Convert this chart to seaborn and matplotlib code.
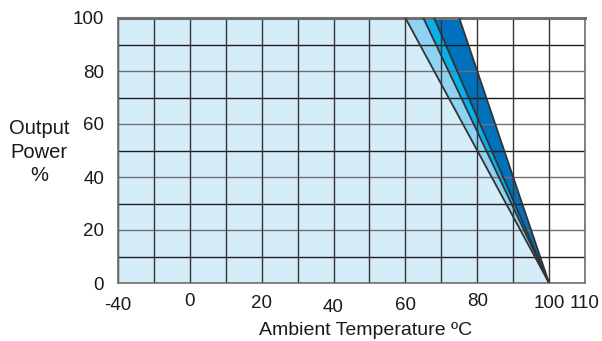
import numpy as np
import pandas as pd
import matplotlib
matplotlib.use("Agg")
import matplotlib.pyplot as plt
import matplotlib.transforms as mtrans
import seaborn as sns

# ---- data ----
start_temps = [60, 65, 68, 75]          # derating start temperature of each curve (°C)
min_temp = -40
end_temp = 100
full_power = 100
band_colors = ["#8ed3f4", "#0aaee9", "#0071bc"]
base_color = "#d5ecf9"
xtick_major = [-40, 0, 20, 40, 60, 80, 100, 110]
xtick_minor = [-20, 10, 30, 50, 70, 90]
ytick_major = [0, 20, 40, 60, 80, 100]
ytick_minor = [10, 30, 50, 70, 90]

sns.set_theme(style="white")
plt.rcParams["font.family"] = ["Liberation Sans", "DejaVu Sans"]

fig = plt.figure(figsize=(6.02, 3.41), dpi=100)
ax = fig.add_axes([118/602, 1-283/341, 467/602, 265/341])

def fwd(t):
    t = np.asarray(t, dtype=float)
    return np.where(t < 0, t / 2.0, t)

def inv(p):
    p = np.asarray(p, dtype=float)
    return np.where(p < 0, p * 2.0, p)

ax.set_xscale("function", functions=(fwd, inv))
ax.set_xlim(-40, 110)
ax.set_ylim(0, 100)

# base light area under the lowest curve
T0 = start_temps[0]
ax.fill([min_temp, min_temp, T0, end_temp], [0, full_power, full_power, 0],
        color=base_color, lw=0, zorder=0)
# bands between successive curves
for i in range(len(start_temps) - 1):
    a, b = start_temps[i], start_temps[i + 1]
    ax.fill([a, b, end_temp], [full_power, full_power, 0],
            color=band_colors[i], lw=0, zorder=0.5)

# grid
for v in ytick_major:
    ax.axhline(v, color="#707070", lw=1.0, zorder=1)
for v in ytick_minor:
    ax.axhline(v, color="#1e1e1e", lw=1.0, zorder=1)
for v in xtick_major + xtick_minor:
    ax.axvline(v, color="#333333", lw=1.0, zorder=1)

# curves
rows = []
for T in start_temps:
    for x, y in [(T, full_power), (end_temp, 0)]:
        rows.append({"curve": T, "temp": x, "power": y})
df = pd.DataFrame(rows)
sns.lineplot(data=df, x="temp", y="power", units="curve", estimator=None,
             color="#333333", lw=1.3, ax=ax, zorder=3, legend=False)

for s in ax.spines.values():
    s.set_color("#707070")
    s.set_linewidth(1.2)
    s.set_visible(True)
ax.spines["top"].set_linewidth(2.2)

ax.set_xticks(xtick_major)
ax.set_xticks([], minor=True)
ax.set_xticklabels([str(v) for v in xtick_major])
ax.set_yticks(ytick_major)
ax.set_yticklabels([str(v) for v in ytick_major])
ax.tick_params(axis="both", length=0, labelsize=13.5, colors="#1a1a1a")
ax.tick_params(axis="y", pad=10)
ax.tick_params(axis="x", pad=9)

# staggered tick labels (as in reference)
offs = [-1, 2, 0, -3, -1, 2, 0, 0]
for lab, o in zip(ax.get_xticklabels(), offs):
    lab.set_transform(lab.get_transform() +
                      mtrans.ScaledTranslation(0, o * 0.72 / 72, fig.dpi_scale_trans))

ax.set_xlabel("Ambient Temperature ºC", fontsize=14, color="#1a1a1a")
ax.xaxis.set_label_coords((366-118)/467, -(335-283)/265)
ax.xaxis.label.set_va("baseline")
ax.set_ylabel("Output\nPower\n%", fontsize=14.5, color="#1a1a1a",
              rotation=0, ha="center", va="center", linespacing=1.3)
ax.yaxis.set_label_coords((39-118)/467, (283-152)/265)

fig.savefig("out.png", dpi=100)
